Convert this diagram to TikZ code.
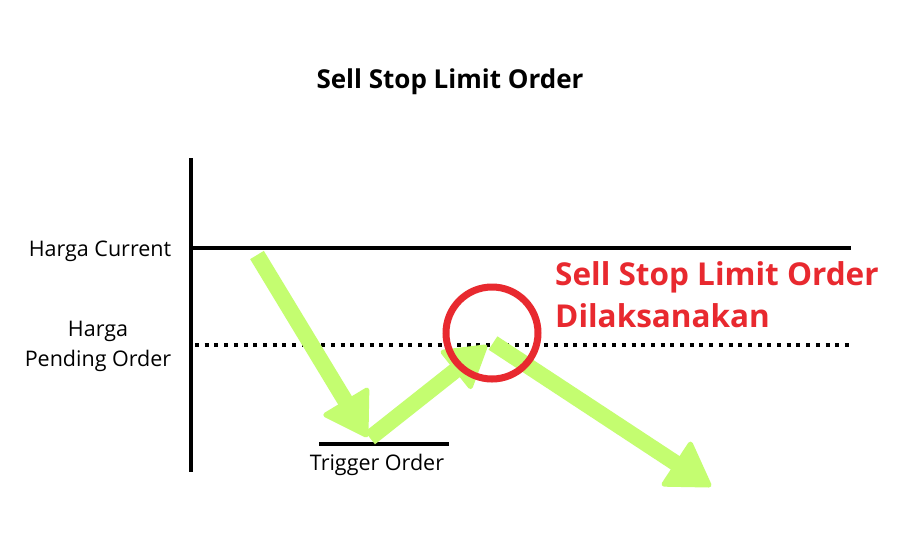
\documentclass[tikz,border=0pt]{standalone}
\usepackage{fontspec}
\setmainfont{Open Sans}
\usetikzlibrary{calc}
\definecolor{lime}{HTML}{C4FD70}
\definecolor{redc}{HTML}{E8292F}
\tikzset{
  axisline/.style={line width=4pt, black},
  dotline/.style={line width=4pt, black, dash pattern=on 4pt off 5.7pt},
  shaft/.style={line width=16pt, lime},
  headtri/.style={fill=lime, draw=lime, line width=5pt, line join=round},
  lbl/.style={font=\fontsize{21.5}{30}\selectfont, align=center, inner sep=0pt},
}
\newcommand{\greenarrow}[4]{% start, tip, headlength, halfwidth
  \draw[shaft] (#1) -- ($(#2)!#3!(#1)$);
  \filldraw[headtri] (#2) -- ($($(#2)!#3!(#1)$)!#4!90:(#2)$) -- ($($(#2)!#3!(#1)$)!#4!-90:(#2)$) -- cycle;
}
\begin{document}
\begin{tikzpicture}[x=1pt,y=-1pt]
\useasboundingbox (0,0) rectangle (919,558);
\fill[white] (0,0) rectangle (919,558);
% title
\node[font=\fontsize{26}{30}\selectfont\bfseries, anchor=base] (title) at (450,88) {Sell Stop Limit Order};
% axes and levels
\coordinate (ytop) at (191,158);
\coordinate (ybot) at (191,472);
\draw[axisline] (ytop) -- (ybot);
\coordinate (cur0) at (191,248);
\coordinate (cur1) at (851,248);
\draw[axisline] (cur0) -- (cur1);
\coordinate (pen0) at (195,345);
\coordinate (pen1) at (851,345);
\draw[dotline] (pen0) -- (pen1);
\coordinate (trg0) at (319,444);
\coordinate (trg1) at (449,444);
\draw[axisline] (trg0) -- (trg1);
% labels
\node[lbl, anchor=base] (lcur) at (100,256) {Harga Current};
\node[lbl, anchor=base] (lpen) at (98,366) {Harga\\Pending Order};
\node[lbl, anchor=base] (ltrg) at (377,470) {Trigger Order};
% arrows
\coordinate (a1s) at (257,255);
\coordinate (a1t) at (366,435);
\coordinate (a2s) at (370,438);
\coordinate (a2t) at (485,347);
\coordinate (a3s) at (493,343);
\coordinate (a3t) at (709,485);
\greenarrow{a1s}{a1t}{38pt}{24pt}
\greenarrow{a2s}{a2t}{36pt}{22pt}
\greenarrow{a3s}{a3t}{38pt}{24pt}
% circle
\node[draw=redc, line width=7pt, circle, minimum size=92pt, inner sep=0pt] (circ) at (492,333) {};
% red text
\node[font=\fontsize{31.5}{42}\selectfont\bfseries, text=redc, anchor=base west, align=left, inner sep=0pt] (exec) at (555,327) {Sell Stop Limit Order\\Dilaksanakan};
\end{tikzpicture}
\end{document}
